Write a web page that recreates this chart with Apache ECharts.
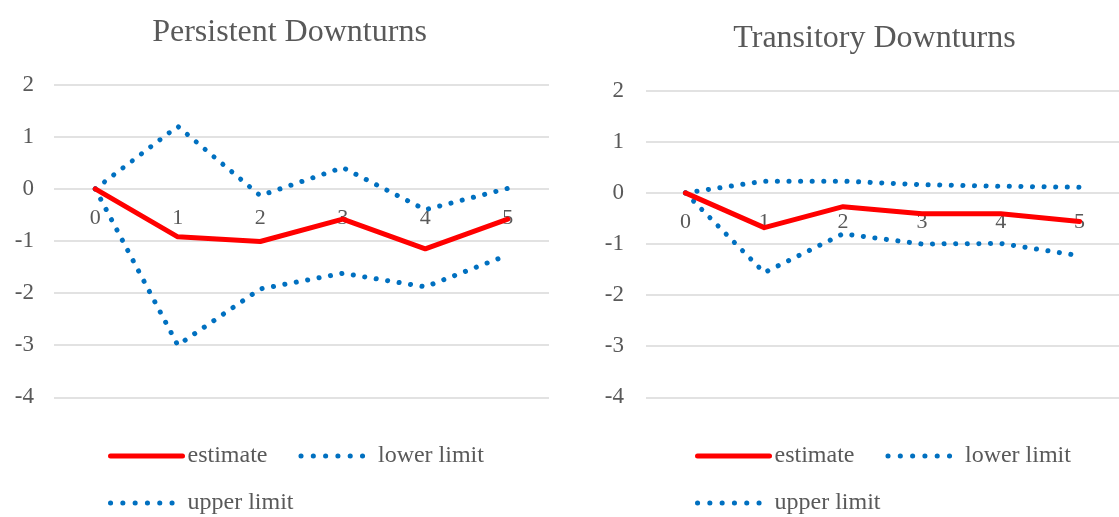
<!DOCTYPE html>
<html>
<head>
<meta charset="utf-8">
<title>Persistent and Transitory Downturns</title>
<script src="https://cdn.jsdelivr.net/npm/echarts@6/dist/echarts.min.js"></script>
<style>
  html, body { margin: 0; padding: 0; background: #ffffff; }
  #chart { width: 1119px; height: 517px; }
</style>
</head>
<body>
<div id="chart"></div>
<script>
// Horizon (periods after the downturn)
const periods = ['0', '1', '2', '3', '4', '5'];
const yTicks = { min: -4, max: 2, interval: 1 };

// Persistent downturns
const persistentEstimate = [0, -0.92, -1.01, -0.58, -1.15, -0.58];
const persistentLower    = [0, -3.00, -1.92, -1.62, -1.88, -1.27];
const persistentUpper    = [0, 1.20, -0.13, 0.41, -0.40, 0.01];

// Transitory downturns
const transitoryEstimate = [0, -0.68, -0.27, -0.41, -0.41, -0.56];
const transitoryLower    = [0, -1.56, -0.80, -1.00, -0.99, -1.23];
const transitoryUpper    = [0, 0.23, 0.23, 0.16, 0.13, 0.11];

const FONT = "'Liberation Serif', 'Times New Roman', serif";
const TEXT = '#595959';
const RED = '#FF0000';
const BLUE = '#0070C0';

const dotted = { color: BLUE, width: 5, type: [0.1, 11.5], cap: 'round' };
const solid = { color: RED, width: 5, cap: 'round', join: 'round' };
// legend swatch: six dots across the 72px key
const dottedKey = Object.assign({}, dotted, { type: [0.1, 12.2] });

function xAxis(gridIndex) {
  return {
    type: 'category', gridIndex, data: periods, boundaryGap: true,
    axisLine: { show: false, onZero: false },
    axisTick: { show: false },
    axisLabel: { color: TEXT, fontFamily: FONT, fontSize: 22, margin: 18 },
    splitLine: { show: false }
  };
}
function yAxis(gridIndex, margin) {
  return {
    type: 'value', gridIndex, min: yTicks.min, max: yTicks.max, interval: yTicks.interval,
    axisLine: { show: false }, axisTick: { show: false },
    axisLabel: { color: TEXT, fontFamily: FONT, fontSize: 23, margin },
    splitLine: { lineStyle: { color: '#D9D9D9', width: 1.5 } }
  };
}
function lineSeries(name, data, idx, style) {
  return {
    name, type: 'line', data, xAxisIndex: idx, yAxisIndex: idx,
    symbol: 'none', lineStyle: style, itemStyle: { color: style.color },
    animation: false, z: name === 'estimate' ? 4 : 3
  };
}
function legendItem(name) {
  const style = name === 'estimate' ? solid : dottedKey;
  return { name, lineStyle: Object.assign({}, style), itemStyle: { opacity: 0 } };
}
function legend(left, top, names) {
  return {
    left, top, padding: 0, data: names.map(legendItem),
    itemWidth: 72, itemHeight: 14, itemGap: 31,
    itemStyle: { opacity: 0 },
    textStyle: { color: TEXT, fontFamily: FONT, fontSize: 24 },
    selectedMode: false
  };
}

const chart = echarts.init(document.getElementById('chart'), null, { renderer: 'canvas' });
chart.setOption({
  backgroundColor: '#ffffff',
  animation: false,
  title: [
    { text: 'Persistent Downturns', left: 284.5, top: 12, textAlign: 'center',
      textStyle: { color: TEXT, fontFamily: FONT, fontSize: 32, fontWeight: 'normal' } },
    { text: 'Transitory Downturns', left: 869.5, top: 18, textAlign: 'center',
      textStyle: { color: TEXT, fontFamily: FONT, fontSize: 32, fontWeight: 'normal' } }
  ],
  grid: [
    { left: 54, top: 84.7, width: 495, height: 312.6, containLabel: false },
    { left: 646, top: 90.7, width: 482, height: 306.6, containLabel: false }
  ],
  xAxis: [xAxis(0), xAxis(1)],
  yAxis: [yAxis(0, 20), yAxis(1, 22)],
  legend: [
    legend(108, 444, ['estimate', 'lower limit']),
    legend(108, 491, ['upper limit']),
    legend(695, 444, ['estimate', 'lower limit']),
    legend(695, 491, ['upper limit'])
  ],
  series: [
    lineSeries('lower limit', persistentLower, 0, dotted),
    lineSeries('upper limit', persistentUpper, 0, dotted),
    lineSeries('estimate', persistentEstimate, 0, solid),
    lineSeries('lower limit', transitoryLower, 1, dotted),
    lineSeries('upper limit', transitoryUpper, 1, dotted),
    lineSeries('estimate', transitoryEstimate, 1, solid)
  ]
});

// Lift each period axis from the bottom of its grid up to the zero line.
const lift = [0, 1].map(i => {
  const bottom = chart.convertToPixel({ yAxisIndex: i }, yTicks.min);
  const zero = chart.convertToPixel({ yAxisIndex: i }, 0);
  return { offset: zero - bottom };
});
chart.setOption({ xAxis: lift });
</script>
</body>
</html>
